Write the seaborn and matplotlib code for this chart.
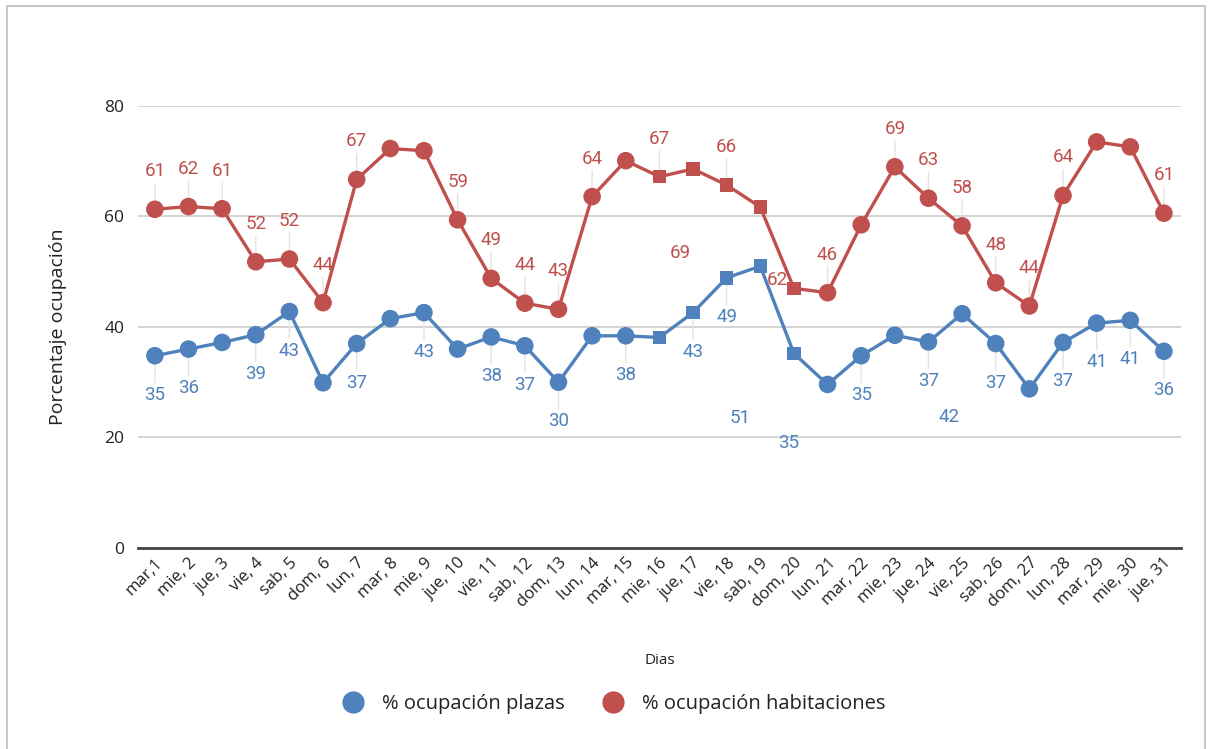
import numpy as np
import pandas as pd
import matplotlib
matplotlib.use("Agg")
import matplotlib.pyplot as plt
import seaborn as sns
from matplotlib.lines import Line2D

# datos
dias = ["mar,1", "mie, 2", "jue, 3", "vie, 4", "sab, 5", "dom, 6", "lun, 7", "mar, 8",
        "mie, 9", "jue, 10", "vie, 11", "sab, 12", "dom, 13", "lun, 14", "mar, 15",
        "mie, 16", "jue, 17", "vie, 18", "sab, 19", "dom, 20", "lun, 21", "mar, 22",
        "mie, 23", "jue, 24", "vie, 25", "sab, 26", "dom, 27", "lun, 28", "mar, 29",
        "mie, 30", "jue, 31"]
plazas = [34.8, 36.0, 37.2, 38.6, 42.8, 29.9, 37.0, 41.5, 42.6, 36.0, 38.2, 36.6, 30.0,
          38.4, 38.4, 38.1, 42.6, 48.9, 51.0, 35.2, 29.6, 34.8, 38.5, 37.3, 42.4, 37.0,
          28.8, 37.2, 40.7, 41.2, 35.6]
habitaciones = [61.3, 61.8, 61.4, 51.8, 52.3, 44.4, 66.7, 72.3, 71.9, 59.4, 48.8, 44.3,
                43.2, 63.6, 70.1, 67.2, 68.6, 65.7, 61.7, 47.0, 46.2, 58.5, 69.0, 63.3,
                58.3, 48.0, 43.8, 63.8, 73.5, 72.6, 60.6]
# dias marcados con cuadrado (1-based)
dias_cuadrado = [16, 17, 18, 19, 20]
# etiquetas ocultas (1-based)
ocultas_plazas = [3, 6, 8, 10, 14, 16, 21, 23, 27]
ocultas_hab = [8, 9, 15, 20, 22, 29, 30]
# etiquetas desplazadas: dia -> (dx, dy) en pixeles
despl_plazas = {19: (-20, -152), 20: (-5, -90), 25: (-13, -103)}
despl_hab = {17: (-13, -84), 19: (17, -73)}

azul = "#4F81BD"
rojo = "#C0504D"

df = pd.DataFrame({"x": np.arange(len(dias)), "plazas": plazas, "hab": habitaciones})
df["forma"] = np.where((df["x"] + 1).isin(dias_cuadrado), "s", "o")

sns.set_style("white")
plt.rcParams["font.family"] = ["Open Sans", "DejaVu Sans"]

fig = plt.figure(figsize=(12.11, 7.49), dpi=100)
ax = fig.add_axes([0.114, 0.2684, 0.861, 0.5901])

for col, color in [("plazas", azul), ("hab", rojo)]:
    sns.lineplot(data=df, x="x", y=col, color=color, lw=2.4, ax=ax, zorder=3)
    sns.scatterplot(data=df, x="x", y=col, style="forma", markers={"o": "o", "s": "s"},
                    size="forma", sizes={"o": 160, "s": 95}, color=color,
                    edgecolor=color, linewidth=0, ax=ax, zorder=4, legend=False)

def etiquetas(valores, color, ocultas, despl, arriba):
    for i, v in enumerate(valores):
        d = i + 1
        if d in ocultas:
            continue
        if d in despl:
            dx, dy = despl[d]
            ax.annotate(f"{v:.0f}", (i, v), xytext=(dx, dy), textcoords="offset pixels",
                        ha="center", va="center", color=color, fontsize=13.5,
                        family="Roboto", zorder=2)
        else:
            dy = 38 if arriba else -39
            ax.annotate(f"{v:.0f}", (i, v), xytext=(0, dy), textcoords="offset pixels",
                        ha="center", va="center", color=color, fontsize=13.5,
                        family="Roboto", zorder=2,
                        arrowprops=dict(arrowstyle="-", color="#e3e3e3", lw=1,
                                        shrinkA=0, shrinkB=0,
                                        relpos=(0.5, 0) if arriba else (0.5, 1)))

etiquetas(habitaciones, rojo, ocultas_hab, despl_hab, True)
etiquetas(plazas, azul, ocultas_plazas, despl_plazas, False)

ax.set_xlim(-0.5, len(dias) - 0.5)
ax.set_ylim(0, 80)
ax.set_yticks([0, 20, 40, 60, 80])
ax.set_xticks(df["x"])
ax.set_xticklabels(dias, rotation=45, ha="right", rotation_mode="anchor", fontsize=12)
ax.tick_params(axis="y", labelsize=12.5, length=0, pad=10, labelcolor="#222222")
ax.tick_params(axis="x", length=0, pad=5, labelcolor="#222222")
ax.grid(axis="y", color="#cccccc", lw=1.2)
ax.set_axisbelow(True)
for s in ["top", "right", "left"]:
    ax.spines[s].set_visible(False)
ax.spines["bottom"].set_color("#444444")
ax.spines["bottom"].set_linewidth(2)
ax.spines["bottom"].set_zorder(1)

ax.set_xlabel("Dias", fontsize=11, labelpad=30, color="#222222")
ax.set_ylabel("Porcentaje ocupación", fontsize=14, labelpad=27, color="#222222")

handles = [Line2D([], [], marker="o", ls="", color=azul, markersize=15),
           Line2D([], [], marker="o", ls="", color=rojo, markersize=15)]
fig.legend(handles, ["% ocupación plazas", "% ocupación habitaciones"], loc="center",
           bbox_to_anchor=(0.503, 0.06), ncol=2, frameon=False, fontsize=14.5,
           handletextpad=0.45, columnspacing=1.4, labelcolor="#222222")

# marco
for xs, ys in [([0.006, 0.006], [0, 0.992]), ([0.006, 0.995], [0.992, 0.992]),
               ([0.995, 0.995], [0, 0.992])]:
    fig.add_artist(Line2D(xs, ys, color="#c8c8c8", lw=1.5, transform=fig.transFigure))

fig.savefig("out.png", dpi=100)
